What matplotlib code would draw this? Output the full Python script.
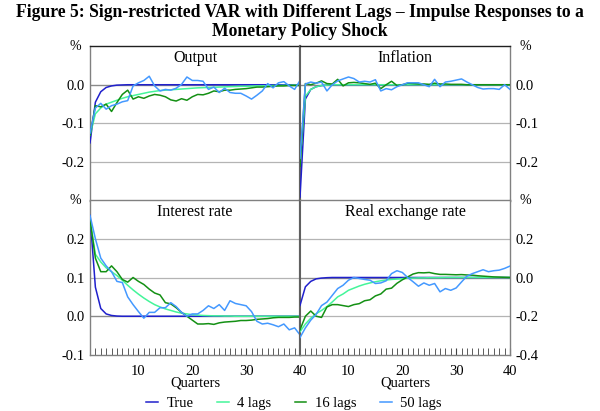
import numpy as np
import matplotlib.pyplot as plt

plt.rcParams['font.family'] = ['Liberation Serif', 'DejaVu Serif']

quarters = np.arange(1, 41)

# Output
out_true = [-0.15, -0.045, -0.018, -0.007, -0.003, -0.001, -0.0005] + [0.0] * 33
out_4 = [-0.13, -0.075, -0.06, -0.05, -0.045, -0.04, -0.035, -0.031, -0.028, -0.025,
         -0.022, -0.019, -0.017, -0.015, -0.014, -0.013, -0.012, -0.011, -0.010, -0.009,
         -0.008, -0.0075, -0.007, -0.0065, -0.006, -0.0055, -0.005, -0.0045, -0.004, -0.004,
         -0.0035, -0.003, -0.003, -0.0025, -0.002, -0.002, -0.0015, -0.0015, -0.001, -0.001]
out_16 = [-0.13, -0.054, -0.057, -0.05, -0.069, -0.046, -0.025, -0.014, -0.037, -0.031,
          -0.035, -0.029, -0.025, -0.027, -0.031, -0.039, -0.042, -0.036, -0.04, -0.031,
          -0.025, -0.026, -0.022, -0.016, -0.018, -0.014, -0.014, -0.012, -0.011, -0.01,
          -0.008, -0.006, -0.006, -0.005, -0.004, -0.003, -0.003, -0.002, -0.002, -0.002]
out_50 = [-0.125, -0.06, -0.048, -0.063, -0.054, -0.05, -0.044, -0.041, -0.003, 0.005,
          0.011, 0.022, -0.003, -0.016, -0.012, -0.014, -0.009, 0.001, 0.02, 0.011,
          0.011, 0.009, -0.012, -0.006, -0.02, -0.009, -0.02, -0.022, -0.022, -0.029,
          -0.037, -0.027, -0.016, 0.003, -0.008, 0.005, 0.008, -0.003, -0.012, 0.011]

# Inflation
inf_true = [-0.29, -0.037, -0.012, -0.005, -0.002, -0.001] + [0.0] * 34
inf_4 = [-0.2, -0.03, -0.012, -0.005, -0.002, -0.001] + [0.0] * 34
inf_16 = [-0.21, 0.003, 0.0, 0.004, 0.01, 0.003, 0.002, 0.014, -0.003, 0.005,
          0.006, 0.005, 0.003, 0.001, 0.004, -0.01, 0.0, 0.009, -0.002, 0.0,
          0.004, 0.003, 0.002, 0.002, 0.001, 0.004, 0.002, 0.002, 0.001, 0.001,
          0.001, 0.0, 0.0, 0.0, 0.0, 0.0, 0.0, 0.0, 0.0, 0.0]
inf_50 = [-0.19, 0.002, 0.007, 0.004, 0.007, -0.016, 0.0, 0.01, 0.015, 0.02,
          0.016, 0.007, 0.009, 0.007, 0.013, -0.016, -0.01, -0.013, -0.005, 0.0,
          0.005, 0.005, 0.005, 0.0, -0.005, 0.014, -0.005, 0.007, 0.009, 0.012,
          0.015, 0.007, 0.0, -0.007, -0.011, -0.01, -0.01, -0.012, 0.0, -0.012]

# Interest rate
int_true = [0.26, 0.075, 0.02, 0.006, 0.002, 0.0005] + [0.0] * 34
int_4 = [0.25, 0.16, 0.14, 0.125, 0.115, 0.105, 0.093, 0.08, 0.068, 0.057,
         0.047, 0.038, 0.03, 0.024, 0.019, 0.015, 0.011, 0.008, 0.006, 0.004,
         0.003, 0.002, 0.0015, 0.001, 0.001, 0.0005, 0.0005] + [0.0] * 13
int_16 = [0.25, 0.15, 0.115, 0.115, 0.13, 0.115, 0.095, 0.088, 0.1, 0.09,
          0.082, 0.07, 0.06, 0.055, 0.035, 0.032, 0.022, 0.01, 0.0, -0.01,
          -0.02, -0.02, -0.019, -0.021, -0.017, -0.015, -0.014, -0.013, -0.011, -0.011,
          -0.01, -0.008, -0.007, -0.006, -0.004, -0.003, -0.003, -0.003, -0.002, -0.002]
int_50 = [0.26, 0.2, 0.15, 0.13, 0.115, 0.09, 0.087, 0.05, 0.03, 0.012,
          -0.005, 0.01, 0.01, 0.022, 0.022, 0.035, 0.025, 0.01, 0.0, 0.006,
          0.006, 0.015, 0.027, 0.02, 0.03, 0.015, 0.04, 0.033, 0.03, 0.027,
          0.012, -0.013, -0.02, -0.018, -0.022, -0.027, -0.02, -0.035, -0.03, -0.048]

# Real exchange rate
rer_true = [-0.144, -0.048, -0.02, -0.007, -0.003, -0.001] + [0.0] * 34
rer_4 = [-0.28, -0.24, -0.21, -0.187, -0.17, -0.15, -0.126, -0.1, -0.085, -0.066,
         -0.055, -0.044, -0.035, -0.028, -0.022, -0.017, -0.013, -0.01, -0.008, -0.006,
         -0.004, -0.003, -0.002, -0.002, -0.001, -0.001, -0.001] + [0.0] * 13
rer_16 = [-0.27, -0.2, -0.173, -0.2, -0.206, -0.152, -0.14, -0.14, -0.145, -0.15,
          -0.14, -0.135, -0.12, -0.115, -0.095, -0.085, -0.06, -0.055, -0.03, -0.012,
          0.003, 0.018, 0.025, 0.024, 0.026, 0.02, 0.016, 0.016, 0.015, 0.014,
          0.015, 0.013, 0.012, 0.009, 0.007, 0.005, 0.003, 0.002, 0.001, 0.0]
rer_50 = [-0.31, -0.26, -0.22, -0.19, -0.145, -0.127, -0.092, -0.057, -0.04, -0.014,
          0.0, -0.005, -0.01, -0.014, -0.031, -0.028, -0.017, 0.02, 0.035, 0.026,
          0.0, -0.022, -0.045, -0.028, -0.04, -0.031, -0.074, -0.057, -0.066, -0.054,
          -0.023, 0.007, 0.02, 0.03, 0.04, 0.03, 0.035, 0.038, 0.047, 0.059]

labels = ['True', '4 lags', '16 lags', '50 lags']
colors = ['#2020cc', '#44f59a', '#149014', '#4499ff']

panels = [
    ('Output', [out_true, out_4, out_16, out_50], (-0.3, 0.1), [-0.2, -0.1, 0.0], 'left', 'top'),
    ('Inflation', [inf_true, inf_4, inf_16, inf_50], (-0.3, 0.1), [-0.2, -0.1, 0.0], 'right', 'top'),
    ('Interest rate', [int_true, int_4, int_16, int_50], (-0.1, 0.3), [-0.1, 0.0, 0.1, 0.2], 'left', 'bottom'),
    ('Real exchange rate', [rer_true, rer_4, rer_16, rer_50], (-0.4, 0.4), [-0.4, -0.2, 0.0, 0.2], 'right', 'bottom'),
]

W, H = 600, 411
fig = plt.figure(figsize=(W / 100, H / 100), dpi=100)

fig.text(0.5, 0.99, 'Figure 5: Sign-restricted VAR with Different Lags \u2013 Impulse Responses to a\n'
         'Monetary Policy Shock', ha='center', va='top', fontsize=12.7, weight='bold', linespacing=1.12)

x0, xm, x1 = 90 / W, 300 / W, 510 / W
ytop, ymid, ybot = 1 - 46 / H, 1 - 201 / H, 1 - 355 / H

for title, series, ylim, yticks, side, row in panels:
    left = x0 if side == 'left' else xm
    bottom = ymid if row == 'top' else ybot
    ax = fig.add_axes([left, bottom, xm - x0, ytop - ymid])
    ax.set_xlim(1, 40)
    ax.set_ylim(*ylim)

    # gridlines, zero line a bit darker
    for t in yticks:
        if t == 0:
            ax.axhline(t, color='#8a8a8a', lw=1.0, zorder=1)
        elif t > ylim[0]:
            ax.axhline(t, color='#b4b4b4', lw=0.9, zorder=1)

    for vals, lab, col in zip(series, labels, colors):
        ax.plot(quarters, vals, color=col, lw=1.1, label=lab, zorder=3)

    ax.text(0.5, 0.975, title, transform=ax.transAxes, ha='center', va='top', fontsize=11.5)

    ax.set_yticks(yticks)
    ax.set_yticklabels(['%.1f' % t for t in yticks], fontsize=10.5)
    ax.tick_params(axis='y', length=0, pad=4)
    if side == 'right':
        ax.yaxis.tick_right()

    for s in ax.spines.values():
        s.set_color('#808080')
        s.set_linewidth(1.0)
    ax.spines['top'].set_color('#202020' if row == 'top' else '#808080')
    if side == 'left':
        ax.spines['right'].set_color('#606060')
        ax.spines['right'].set_linewidth(1.5)
    else:
        ax.spines['left'].set_color('#606060')
        ax.spines['left'].set_linewidth(1.5)

    if row == 'bottom':
        ax.set_xticks(quarters, minor=True)
        ax.set_xticks([10, 20, 30, 40])
        ax.tick_params(axis='x', which='both', direction='in', length=5, color='#404040',
                       labelsize=10.5, pad=7)
        ax.set_xlabel('Quarters', fontsize=10.5, labelpad=-1)
    else:
        ax.set_xticks([])

    # percent signs at the panel top
    px = left - 15 / W if side == 'left' else left + (xm - x0) + 15 / W
    fig.text(px, bottom + (ytop - ymid), '%', ha='center', va='center', fontsize=10)

handles = [plt.Line2D([], [], color=c, lw=1.1) for c in colors]
fig.legend(handles, labels, loc='center', bbox_to_anchor=(0.49, 403 / H * -1 + 1), ncol=4,
           frameon=False, fontsize=10.5, handlelength=0.8, columnspacing=1.6, handletextpad=0.6)

fig.savefig('out.png', dpi=100)
